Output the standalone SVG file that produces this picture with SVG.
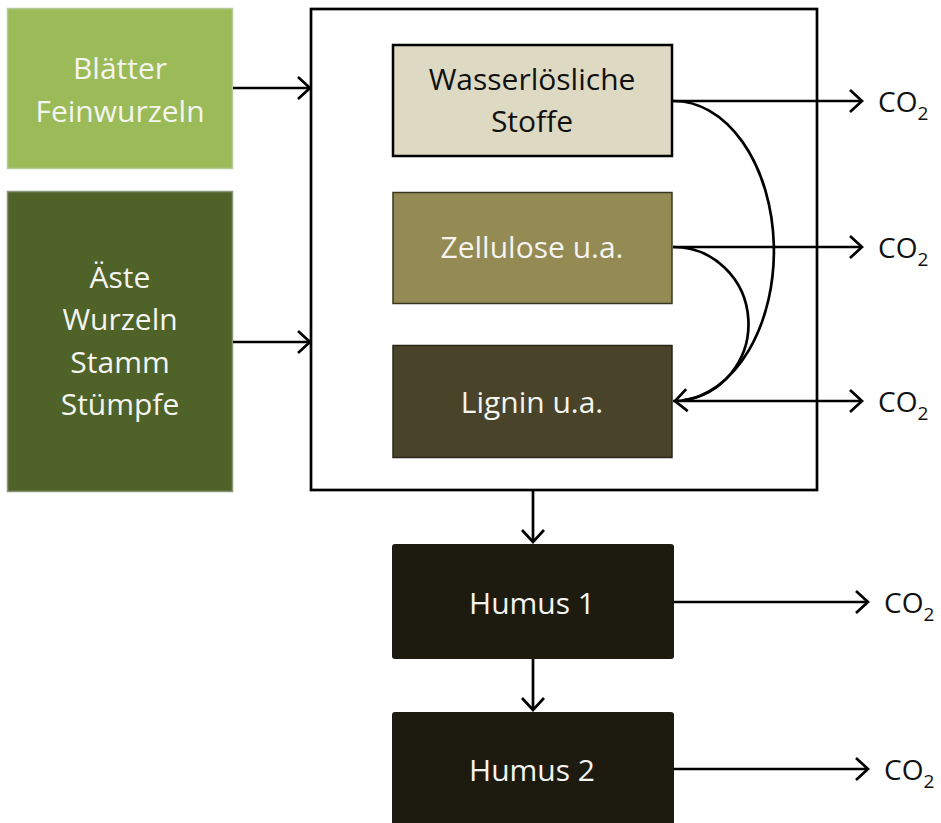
<svg xmlns="http://www.w3.org/2000/svg" width="941" height="823" viewBox="0 0 941 823">
<style>
text{font-family:"Open Sans","Liberation Sans",sans-serif;font-size:30px;text-anchor:middle}
.lt{fill:#F4F4F0}
.dk{fill:#111111}
.co{font-size:28px;text-anchor:start;fill:#111}
.sub{font-size:19px}
.ln{fill:none;stroke:#000;stroke-width:2.7}
</style>
<defs>
<marker id="ah" viewBox="-14 -12 16 24" markerWidth="16" markerHeight="24" refX="0" refY="0" orient="auto" markerUnits="userSpaceOnUse">
<path d="M-12,-11 L0,0 L-12,11" fill="none" stroke="#000" stroke-width="2.7"/>
</marker>
</defs>
<rect width="941" height="823" fill="#fff"/>
<g id="container"><rect x="311" y="9" width="506" height="481" fill="none" stroke="#000" stroke-width="2.7"/></g>
<g id="blaetter"><rect x="7.5" y="8.5" width="225" height="160" fill="#9BBB59" stroke="#B5C99A" stroke-width="1.5"/>
<text class="lt" x="120" y="79">Blätter</text><text class="lt" x="120" y="122">Feinwurzeln</text></g>
<g id="aeste"><rect x="7.5" y="191.5" width="225" height="300" fill="#4F6228" stroke="#8A977A" stroke-width="1.5"/>
<text class="lt" x="120" y="288">Äste</text><text class="lt" x="120" y="330">Wurzeln</text><text class="lt" x="120" y="373">Stamm</text><text class="lt" x="120" y="415">Stümpfe</text></g>
<g id="wasser"><rect x="393" y="45" width="279" height="111" fill="#DDD9C3" stroke="#000" stroke-width="2.5"/>
<text class="dk" x="532" y="90">Wasserlösliche</text><text class="dk" x="532" y="132">Stoffe</text></g>
<g id="zellulose"><rect x="393" y="192.5" width="279" height="111" fill="#948A54" stroke="#3A3620" stroke-width="1.5"/>
<text class="lt" x="532" y="258">Zellulose u.a.</text></g>
<g id="lignin"><rect x="393" y="345.5" width="279" height="112" fill="#494429" stroke="#2A2718" stroke-width="1.5"/>
<text class="lt" x="532" y="413">Lignin u.a.</text></g>
<g id="humus1"><rect x="392" y="544" width="282" height="115" rx="3" fill="#1D1B10"/>
<text class="lt" x="532" y="614">Humus 1</text></g>
<g id="humus2"><rect x="392" y="712" width="282" height="120" rx="3" fill="#1D1B10"/>
<text class="lt" x="532" y="781">Humus 2</text></g>
<g id="connectors">
<line class="ln" x1="233" y1="88" x2="310" y2="88" marker-end="url(#ah)"/>
<line class="ln" x1="233" y1="342" x2="310" y2="342" marker-end="url(#ah)"/>
<line class="ln" x1="673" y1="101" x2="862" y2="101" marker-end="url(#ah)"/>
<line class="ln" x1="673" y1="247" x2="862" y2="247" marker-end="url(#ah)"/>
<line class="ln" x1="673" y1="401" x2="862" y2="401" marker-end="url(#ah)"/>
<path class="ln" d="M673,101 A100,150 0 0 1 682,400.5 L675,401" marker-end="url(#ah)"/>
<path class="ln" d="M673,247 A75,77 0 0 1 682,400.5"/>
<line class="ln" x1="533" y1="491" x2="533" y2="542" marker-end="url(#ah)"/>
<line class="ln" x1="533" y1="659" x2="533" y2="710" marker-end="url(#ah)"/>
<line class="ln" x1="674" y1="602" x2="868" y2="602" marker-end="url(#ah)"/>
<line class="ln" x1="674" y1="769" x2="868" y2="769" marker-end="url(#ah)"/>
</g>
<g id="co2">
<text class="co" x="878" y="112">CO<tspan class="sub" dy="8">2</tspan></text>
<text class="co" x="878" y="258">CO<tspan class="sub" dy="8">2</tspan></text>
<text class="co" x="878" y="412">CO<tspan class="sub" dy="8">2</tspan></text>
<text class="co" x="884" y="613">CO<tspan class="sub" dy="8">2</tspan></text>
<text class="co" x="884" y="780">CO<tspan class="sub" dy="8">2</tspan></text>
</g>
</svg>
